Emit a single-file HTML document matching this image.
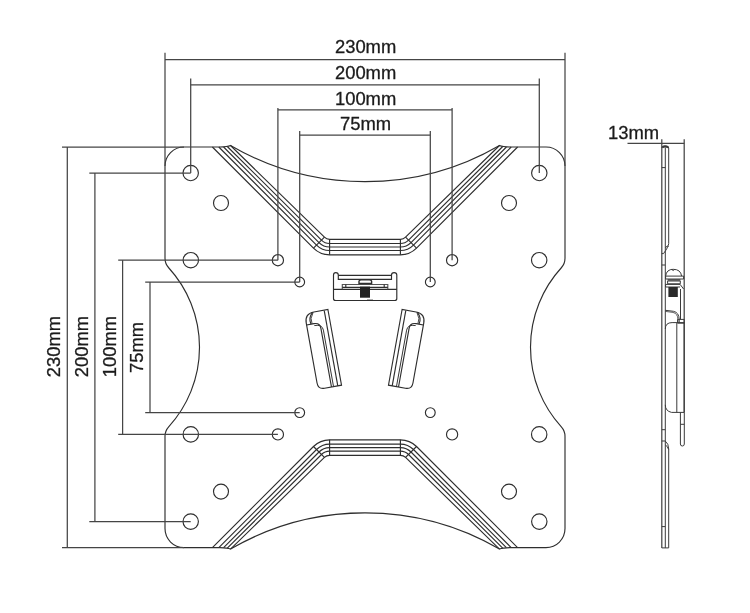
<!DOCTYPE html>
<html><head><meta charset="utf-8"><style>
html,body{margin:0;padding:0;background:#fff;}
svg{display:block;}
.g *{fill:none;stroke:#2e2e2e;stroke-width:1.15;}
.g .d{stroke:#454545;stroke-width:1.25;}
.g .p *{stroke:#3a3a3a;stroke-width:1.0;}
.t text{font-family:"Liberation Sans",sans-serif;font-size:18.4px;fill:#1a1a1a;stroke:#1a1a1a;stroke-width:0.3;}
</style></head><body>
<svg width="750" height="613" viewBox="0 0 750 613">
<rect width="750" height="613" fill="#fff"/>
<g class="g">
<path d="M 184 147 A 19 19 0 0 0 165 166 L 165 258.32 A 14 14 0 0 0 168.66 267.76 A 118 118 0 0 1 168.66 426.84 A 14 14 0 0 0 165 436.28 L 165 528.6 A 19 19 0 0 0 184 547.6 L 220 547.6 Q 227.5 547.7 230.5 549.1 A 268 268 0 0 1 499.5 549.1 Q 502.5 547.7 510 547.6 L 546 547.6 A 19 19 0 0 0 565 528.6 L 565 436.28 A 14 14 0 0 0 561.34 426.84 A 118 118 0 0 1 561.34 267.76 A 14 14 0 0 0 565 258.32 L 565 166 A 19 19 0 0 0 546 147 L 510 147 Q 502.5 146.9 499.5 145.5 A 268 268 0 0 1 230.5 145.5 Q 227.5 146.9 220 147 Z"/>
<path d="M 212.4 147 L 313.48 248.12 A 22.8 22.8 0 0 0 329.6 254.8 L 400.4 254.8 A 22.8 22.8 0 0 0 416.52 248.12 L 517.6 147"/>
<path d="M 218.8 147 L 316.52 245.08 A 18.5 18.5 0 0 0 329.6 250.5 L 400.4 250.5 A 18.5 18.5 0 0 0 413.48 245.08 L 511.2 147"/>
<path d="M 223.6 147 L 318.99 242.61 A 15 15 0 0 0 329.6 247 L 400.4 247 A 15 15 0 0 0 411.01 242.61 L 506.4 147"/>
<path d="M 227.3 146.5 L 321.47 240.13 A 11.5 11.5 0 0 0 329.6 243.5 L 400.4 243.5 A 11.5 11.5 0 0 0 408.53 240.13 L 502.7 146.5"/>
<path d="M 230.5 145.5 L 324.44 237.16 A 7.3 7.3 0 0 0 329.6 239.3 L 400.4 239.3 A 7.3 7.3 0 0 0 405.56 237.16 L 499.5 145.5"/>
<line x1="324.44" y1="237.16" x2="313.48" y2="248.12"/>
<line x1="405.56" y1="237.16" x2="416.52" y2="248.12"/>
<line x1="329.6" y1="239.3" x2="329.6" y2="254.8"/>
<line x1="400.4" y1="239.3" x2="400.4" y2="254.8"/>
<path d="M 212.4 547.6 L 313.48 446.48 A 22.8 22.8 0 0 1 329.6 439.8 L 400.4 439.8 A 22.8 22.8 0 0 1 416.52 446.48 L 517.6 547.6"/>
<path d="M 218.8 547.6 L 316.52 449.52 A 18.5 18.5 0 0 1 329.6 444.1 L 400.4 444.1 A 18.5 18.5 0 0 1 413.48 449.52 L 511.2 547.6"/>
<path d="M 223.6 547.6 L 318.99 451.99 A 15 15 0 0 1 329.6 447.6 L 400.4 447.6 A 15 15 0 0 1 411.01 451.99 L 506.4 547.6"/>
<path d="M 227.3 548.1 L 321.47 454.47 A 11.5 11.5 0 0 1 329.6 451.1 L 400.4 451.1 A 11.5 11.5 0 0 1 408.53 454.47 L 502.7 548.1"/>
<path d="M 230.5 549.1 L 324.44 457.44 A 7.3 7.3 0 0 1 329.6 455.3 L 400.4 455.3 A 7.3 7.3 0 0 1 405.56 457.44 L 499.5 549.1"/>
<line x1="324.44" y1="457.44" x2="313.48" y2="446.48"/>
<line x1="405.56" y1="457.44" x2="416.52" y2="446.48"/>
<line x1="329.6" y1="455.3" x2="329.6" y2="439.8"/>
<line x1="400.4" y1="455.3" x2="400.4" y2="439.8"/>
<circle cx="190.7" cy="173" r="7.7"/>
<circle cx="539.3" cy="173" r="7.7"/>
<circle cx="190.7" cy="521.6" r="7.7"/>
<circle cx="539.3" cy="521.6" r="7.7"/>
<circle cx="190.8" cy="260.2" r="7.7"/>
<circle cx="539.2" cy="260.2" r="7.7"/>
<circle cx="190.8" cy="434.4" r="7.7"/>
<circle cx="539.2" cy="434.4" r="7.7"/>
<circle cx="221" cy="203" r="7.5"/>
<circle cx="509" cy="203" r="7.5"/>
<circle cx="221" cy="491.6" r="7.5"/>
<circle cx="509" cy="491.6" r="7.5"/>
<circle cx="277.9" cy="260.2" r="5.6"/>
<circle cx="452.1" cy="260.2" r="5.6"/>
<circle cx="277.9" cy="434.4" r="5.6"/>
<circle cx="452.1" cy="434.4" r="5.6"/>
<circle cx="299.7" cy="282" r="4.9"/>
<circle cx="430.3" cy="282" r="4.9"/>
<circle cx="299.7" cy="412.6" r="4.9"/>
<circle cx="430.3" cy="412.6" r="4.9"/>
<line x1="165" y1="52.7" x2="165" y2="166" class="d"/>
<line x1="565" y1="52.7" x2="565" y2="166" class="d"/>
<line x1="165" y1="59.5" x2="565" y2="59.5" class="d"/>
<line x1="190.7" y1="78.4" x2="190.7" y2="173" class="d"/>
<line x1="539.3" y1="78.4" x2="539.3" y2="173" class="d"/>
<line x1="190.7" y1="84.8" x2="539.3" y2="84.8" class="d"/>
<line x1="277.9" y1="108" x2="277.9" y2="260.2" class="d"/>
<line x1="452.1" y1="108" x2="452.1" y2="260.2" class="d"/>
<line x1="277.9" y1="109.9" x2="452.1" y2="109.9" class="d"/>
<line x1="299.7" y1="130.9" x2="299.7" y2="282" class="d"/>
<line x1="430.3" y1="130.9" x2="430.3" y2="282" class="d"/>
<line x1="299.7" y1="135.1" x2="430.3" y2="135.1" class="d"/>
<line x1="62" y1="147" x2="184" y2="147" class="d"/>
<line x1="62" y1="547.6" x2="184" y2="547.6" class="d"/>
<line x1="67.3" y1="147" x2="67.3" y2="547.6" class="d"/>
<line x1="89.3" y1="173" x2="190.7" y2="173" class="d"/>
<line x1="89.3" y1="521.6" x2="190.7" y2="521.6" class="d"/>
<line x1="94.9" y1="173" x2="94.9" y2="521.6" class="d"/>
<line x1="118.2" y1="260.2" x2="277.9" y2="260.2" class="d"/>
<line x1="118.2" y1="434.4" x2="277.9" y2="434.4" class="d"/>
<line x1="122.6" y1="260.2" x2="122.6" y2="434.4" class="d"/>
<line x1="145.2" y1="282" x2="299.7" y2="282" class="d"/>
<line x1="145.2" y1="412.6" x2="299.7" y2="412.6" class="d"/>
<line x1="150" y1="282" x2="150" y2="412.6" class="d"/>
<path d="M 333.5 275 Q 333.5 272.6 335.8 272.6 Q 338.3 272.6 338.3 275 L 338.3 279.3 L 391.5 279.3 L 391.5 275 Q 391.5 272.6 394.1 272.6 Q 396.8 272.6 396.8 275 L 396.8 298.5 Q 396.8 300.5 394.7 300.5 L 335.6 300.5 Q 333.5 300.5 333.5 298.5 Z"/>
<line x1="338.3" y1="275.3" x2="391.5" y2="275.3"/>
<line x1="333.5" y1="289.3" x2="396.8" y2="289.3"/>
<path d="M 342.3 289.2 L 342.3 284.5 L 387.8 284.5 L 387.8 289.2" style="stroke:#555"/>
<line x1="345.8" y1="284.5" x2="345.8" y2="287.3"/>
<line x1="384.2" y1="284.5" x2="384.2" y2="287.3"/>
<line x1="342.3" y1="287.3" x2="387.8" y2="287.3"/>
<path d="M 359 283.5 L 359 281.2 Q 359.3 279.8 361.3 279.8 L 369.3 279.8 Q 371.4 279.8 371.6 281.2 L 371.6 283.5 Z" style="stroke-width:1.4"/>
<rect x="360" y="286.6" width="10" height="11.1" style="fill:#222;stroke:none"/>
<line x1="367" y1="300.2" x2="373" y2="300.2"/>
<g transform="translate(327.9 309.5) rotate(-10.2)"><path d="M 0 0 L 0 76.9 L -17.2 76.9 Q -23.7 76.9 -23.7 70.4 L -23.7 9.5 Q -23.7 0 -14.2 0 Z"/>
<line x1="-3.8" y1="0.4" x2="-3.8" y2="76.9"/>
<path d="M -23.7 11.5 L -16.2 11.5 Q -10.2 11.5 -10.2 17.5 L -10.2 76.9"/>
<path d="M -16.2 13.4 Q -8.1 13.4 -8.1 19.5 L -8.1 76.9" style="stroke-width:0.9"/>
<path d="M -15.8 0.3 Q -21 5 -19.2 11.5"/>
<path d="M -15.2 0.5 Q -19.6 5.5 -18.1 11.5" style="stroke-width:0.8"/></g>
<g transform="translate(730 0) scale(-1 1) translate(327.9 309.5) rotate(-10.2)"><path d="M 0 0 L 0 76.9 L -17.2 76.9 Q -23.7 76.9 -23.7 70.4 L -23.7 9.5 Q -23.7 0 -14.2 0 Z"/>
<line x1="-3.8" y1="0.4" x2="-3.8" y2="76.9"/>
<path d="M -23.7 11.5 L -16.2 11.5 Q -10.2 11.5 -10.2 17.5 L -10.2 76.9"/>
<path d="M -16.2 13.4 Q -8.1 13.4 -8.1 19.5 L -8.1 76.9" style="stroke-width:0.9"/>
<path d="M -15.8 0.3 Q -21 5 -19.2 11.5"/>
<path d="M -15.2 0.5 Q -19.6 5.5 -18.1 11.5" style="stroke-width:0.8"/></g>
<line x1="627.5" y1="143.3" x2="684.3" y2="143.3" class="d"/>
<line x1="661.8" y1="139.2" x2="661.8" y2="548" class="d"/>
<line x1="684.2" y1="139.2" x2="684.2" y2="412.4" class="d"/>
<g class="p">
<line x1="665.3" y1="147.5" x2="665.3" y2="547.9"/>
<path d="M 661.8 148 Q 662 145.8 665.3 145.8 Q 668.7 145.8 668.7 148 L 668.7 243.5 Q 668.5 247 663.5 253.6 L 661.8 253.6"/>
<path d="M 662.3 147.6 Q 664.5 145.6 668.4 147.4" style="stroke-width:2"/>
<line x1="661.8" y1="167.6" x2="665.4" y2="167.6"/>
<path d="M 665.4 248 Q 667.5 244.5 668.5 246.5"/>
<line x1="661.8" y1="265" x2="665.2" y2="265"/>
<path d="M 665.6 276.1 Q 666.5 269.3 673.2 269.3 Q 680.7 269.3 681.6 276.1"/>
<path d="M 671.8 269.5 Q 673.2 271.5 674.6 269.5"/>
<path d="M 665.6 276.1 L 683.6 276.1 L 683.6 279 L 665.6 279 Z"/>
<rect x="667.6" y="279.3" width="12.8" height="1.3" style="fill:#333;stroke:none"/>
<path d="M 667.6 281 L 680.3 281 L 680.3 283.8 L 667.6 283.8 Z"/>
<path d="M 665.6 284.4 L 680.1 284.4 L 683.6 289 M 665.6 284.4 L 665.6 287 L 680.1 287"/>
<rect x="668.4" y="287" width="9.4" height="10" style="fill:#2a2a2a;stroke:none"/>
<path d="M 665.3 310.3 L 673.5 311.3 Q 679 312.5 679.2 319.4 L 679.2 323"/>
<path d="M 665.3 311.4 L 673 312.4 Q 677.8 313.6 677.9 319.4 L 677.9 323" style="stroke-width:0.8"/>
<line x1="680.5" y1="289" x2="680.5" y2="319.4"/>
<path d="M 677.6 319.4 L 684.2 319.4 L 684.2 323.2 L 677.6 323.2 Z"/>
<path d="M 665.3 329 Q 665.3 322.6 672.1 322.6 L 684.2 322.6 L 684.2 412.4 L 671.5 412.4 Q 665.3 411 665.3 404.8"/>
<line x1="676.8" y1="323" x2="676.8" y2="412.4"/>
<path d="M 680.4 412.4 L 680.4 444 Q 680.4 446 682.35 446 Q 684.3 446 684.3 444 L 684.3 412.4"/>
<line x1="680.4" y1="424.3" x2="684.3" y2="424.3"/>
<line x1="661.8" y1="429.7" x2="665.2" y2="429.7"/>
<path d="M 661.8 441 L 665.2 441 Q 668.7 443.5 668.7 449 L 668.7 547.9 L 661.8 547.9"/>
<path d="M 665.4 445 Q 667.5 446 668.6 449.5"/>
<line x1="661.8" y1="526.6" x2="665.2" y2="526.6"/>
</g>
</g>
<g class="t" style="opacity:0.995">
<text x="365.6" y="53.2" text-anchor="middle">230mm</text>
<text x="365.6" y="78.5" text-anchor="middle">200mm</text>
<text x="365.6" y="104.5" text-anchor="middle">100mm</text>
<text x="365.6" y="129.6" text-anchor="middle">75mm</text>
<text transform="translate(60.3 346.5) rotate(-90)" text-anchor="middle">230mm</text>
<text transform="translate(88.3 346.5) rotate(-90)" text-anchor="middle">200mm</text>
<text transform="translate(116.3 346.5) rotate(-90)" text-anchor="middle">100mm</text>
<text transform="translate(143.3 347.5) rotate(-90)" text-anchor="middle">75mm</text>
<text x="633.6" y="138.5" text-anchor="middle">13mm</text>
</g>
</svg>
</body></html>
